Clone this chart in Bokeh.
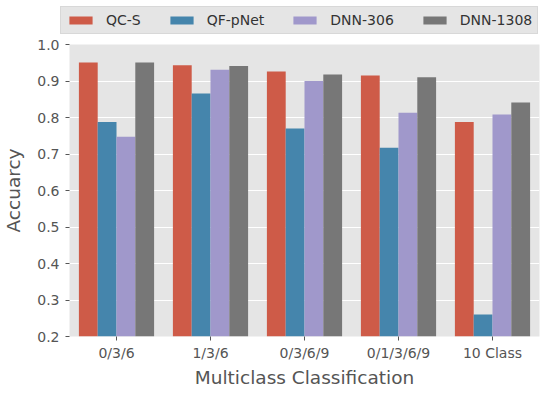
from bokeh.plotting import figure
from bokeh.models import ColumnDataSource, FactorRange, FixedTicker, Legend, LegendItem
from bokeh.layouts import column
from bokeh.transform import dodge
from bokeh.embed import file_html
from bokeh.resources import INLINE

groups = ["0/3/6", "1/3/6", "0/3/6/9", "0/1/3/6/9", "10 Class"]
series = ["QC-S", "QF-pNet", "DNN-306", "DNN-1308"]
qcs = [0.951, 0.943, 0.926, 0.915, 0.788]
qfpnet = [0.788, 0.866, 0.770, 0.717, 0.260]
dnn306 = [0.747, 0.931, 0.900, 0.813, 0.808]
dnn1308 = [0.951, 0.941, 0.918, 0.910, 0.841]
yticks = [0.2, 0.3, 0.4, 0.5, 0.6, 0.7, 0.8, 0.9, 1.0]

colors = ["#CE5B48", "#4585AC", "#A098CB", "#777777"]
values = [qcs, qfpnet, dnn306, dnn1308]
offsets = [-0.3, -0.1, 0.1, 0.3]

data = {"group": groups}
for s, v in zip(series, values):
    data[s] = v
src = ColumnDataSource(data)

# ---------- main chart ----------
p = figure(frame_width=470, frame_height=292,
           x_range=FactorRange(factors=groups, range_padding=0),
           y_range=(0.2, 1.0), output_backend="svg", toolbar_location=None,
           min_border_left=66, min_border_right=2, min_border_top=8, min_border_bottom=40)
p.frame_align = False

p.background_fill_color = "#E5E5E5"
p.border_fill_color = "white"
p.outline_line_color = None

for s, c, off in zip(series, colors, offsets):
    p.vbar(x=dodge("group", off, range=p.x_range), top=s, bottom=0, width=0.2,
           source=src, fill_color=c, line_color=None)

p.xgrid.grid_line_color = None
p.ygrid.grid_line_color = "white"
p.ygrid.grid_line_width = 1.2
p.ygrid.ticker = FixedTicker(ticks=yticks)

p.yaxis.ticker = FixedTicker(ticks=yticks)
p.yaxis.major_label_overrides = {t: f"{t:.1f}" for t in yticks}
for ax in (p.xaxis[0], p.yaxis[0]):
    ax.axis_line_color = None
    ax.major_tick_line_color = "#555555"
    ax.major_tick_out = 4
    ax.major_tick_in = 0
    ax.minor_tick_line_color = None
    ax.major_label_text_color = "#555555"
    ax.major_label_text_font = "DejaVu Sans"
    ax.major_label_text_font_size = "14px"
    ax.axis_label_text_color = "#555555"
    ax.axis_label_text_font = "DejaVu Sans"
    ax.axis_label_text_font_size = "18.5px"
    ax.axis_label_text_font_style = "normal"

p.xaxis.axis_label = "Multiclass Classification"
p.yaxis.axis_label = "Accuarcy"
p.xaxis.major_label_standoff = 4
p.xaxis.axis_label_standoff = 3
p.yaxis.major_label_standoff = 6
p.yaxis.axis_label_standoff = 10

# ---------- legend strip ----------
lf = figure(width=538, height=36, x_range=FactorRange(factors=groups), y_range=(5, 6),
            output_backend="svg", toolbar_location=None,
            x_axis_location=None, y_axis_location=None, min_border=0)
lf.frame_align = False
lf.outline_line_color = None
lf.grid.visible = False
lf.border_fill_color = "white"
lf.background_fill_color = "white"

leg_renderers = []
for s, c, off in zip(series, colors, offsets):
    r = lf.vbar(x=dodge("group", off, range=lf.x_range), top=s, bottom=0, width=0.2,
                source=src, fill_color=c, line_color=None)
    leg_renderers.append(r)

legend = Legend(items=[LegendItem(label=s, renderers=[r]) for s, r in zip(series, leg_renderers)],
                orientation="horizontal", location=(60, 2))
legend.background_fill_color = "#E5E5E5"
legend.background_fill_alpha = 1.0
legend.border_line_color = "#CCCCCC"
legend.border_line_width = 1
legend.label_text_font = "DejaVu Sans"
legend.label_text_font_size = "14px"
legend.label_text_color = "#333333"
legend.glyph_width = 29
legend.glyph_height = 10
legend.label_standoff = 11
legend.spacing = 26
legend.padding = 5
legend.margin = 0
legend.label_height = 14
lf.add_layout(legend, "center")

layout = column(lf, p, spacing=0)
open("out.html", "w").write(file_html(layout, INLINE))
